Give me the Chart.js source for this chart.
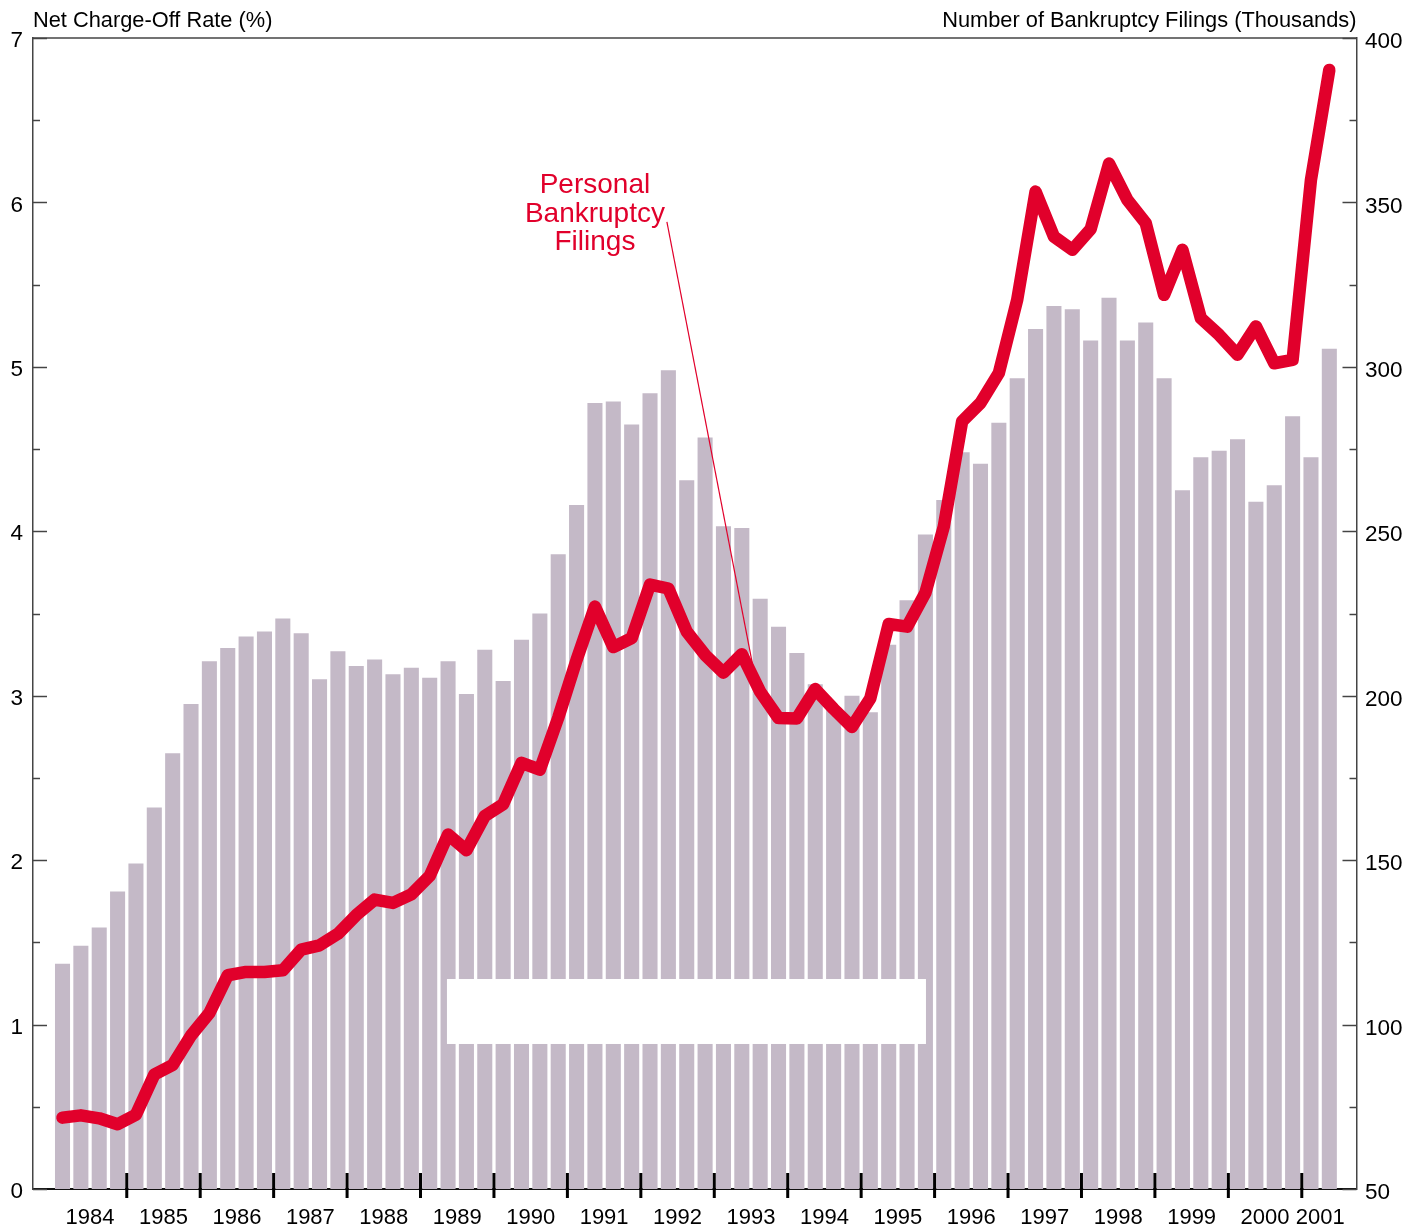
<!DOCTYPE html>
<html>
<head>
<meta charset="utf-8">
<script src="https://cdn.jsdelivr.net/npm/chart.js@4/dist/chart.umd.min.js"></script>
<style>
html,body{margin:0;padding:0;background:#ffffff;}
canvas{display:block;}
</style>
</head>
<body>
<canvas id="c" width="1424" height="1230"></canvas>
<script>
// ---- DATA ----
const quarters = [
 '1984Q1','1984Q2','1984Q3','1984Q4','1985Q1','1985Q2','1985Q3','1985Q4',
 '1986Q1','1986Q2','1986Q3','1986Q4','1987Q1','1987Q2','1987Q3','1987Q4',
 '1988Q1','1988Q2','1988Q3','1988Q4','1989Q1','1989Q2','1989Q3','1989Q4',
 '1990Q1','1990Q2','1990Q3','1990Q4','1991Q1','1991Q2','1991Q3','1991Q4',
 '1992Q1','1992Q2','1992Q3','1992Q4','1993Q1','1993Q2','1993Q3','1993Q4',
 '1994Q1','1994Q2','1994Q3','1994Q4','1995Q1','1995Q2','1995Q3','1995Q4',
 '1996Q1','1996Q2','1996Q3','1996Q4','1997Q1','1997Q2','1997Q3','1997Q4',
 '1998Q1','1998Q2','1998Q3','1998Q4','1999Q1','1999Q2','1999Q3','1999Q4',
 '2000Q1','2000Q2','2000Q3','2000Q4','2001Q1','2001Q2'
];
const years = ['1984','1985','1986','1987','1988','1989','1990','1991','1992',
 '1993','1994','1995','1996','1997','1998','1999','2000','2001'];

// Net charge-off rate (%), left axis (bars)
const chargeOffRate = [
 1.37,1.48,1.59,1.81, 1.98,2.32,2.65,2.95,
 3.21,3.29,3.36,3.39, 3.47,3.38,3.10,3.27,
 3.18,3.22,3.13,3.17, 3.11,3.21,3.01,3.28,
 3.09,3.34,3.50,3.86, 4.16,4.78,4.79,4.65,
 4.84,4.98,4.31,4.57, 4.03,4.02,3.59,3.42,
 3.26,3.07,2.93,3.00, 2.90,3.31,3.58,3.98,
 4.19,4.48,4.41,4.66, 4.93,5.23,5.37,5.35,
 5.16,5.42,5.16,5.27, 4.93,4.25,4.45,4.49,
 4.56,4.18,4.28,4.70, 4.45,5.11
];
// Personal bankruptcy filings (thousands), right axis (line)
const bankruptcyFilings = [
 71.7,72.4,71.5,69.7, 72.6,84.8,87.7,96.7,
 103.5,115.0,116.0,116.0, 116.5,122.8,124.1,127.6,
 133.3,138.0,137.0,139.6, 145.2,157.8,153.0,163.4,
 167.0,179.6,177.5,193.3, 210.9,227.1,214.8,217.5,
 233.8,232.6,219.5,212.4, 207.0,212.6,201.2,193.2,
 193.1,202.0,196.0,190.5, 199.2,221.8,221.0,231.3,
 251.4,283.4,289.0,298.1, 320.4,353.3,339.6,335.6,
 341.9,361.8,350.8,343.7, 321.9,335.6,314.8,309.7,
 303.7,312.3,301.1,302.1, 356.9,390.3
];
const leftTicks = [0,1,2,3,4,5,6,7];
const rightTicks = [50,100,150,200,250,300,350,400];

const leftTitle = 'Net Charge-Off Rate (%)';
const rightTitle = 'Number of Bankruptcy Filings (Thousands)';
const seriesLabel = ['Personal','Bankruptcy','Filings'];

// ---- derived helpers ----
const yearIndexGroups = years.map(y => quarters.map((q,i)=>q.startsWith(y)?i:-1).filter(i=>i>=0));
const yearCenters = yearIndexGroups.map(g => (g[0]+g[g.length-1])/2);
const yearBoundaries = yearIndexGroups.slice(1).map(g => g[0]-0.5);

const FONT = '"Liberation Sans", Arial, Helvetica, sans-serif';
const RED = '#E1002B';
const BAR = '#C4B9C7';
const AXIS = '#444444';

const decor = {
  id: 'decor',
  afterDatasetDraw(chart, args) {
    if (args.index !== 0) return;
    const x = chart.scales.x, y = chart.scales.y;
    const ctx = chart.ctx;
    const x0 = x.getPixelForValue(20.94), x1 = x.getPixelForValue(47.03);
    const y0 = y.getPixelForValue(1.277), y1 = y.getPixelForValue(0.882);
    ctx.save();
    ctx.fillStyle = '#ffffff';
    ctx.fillRect(x0, y0, x1-x0, y1-y0);
    ctx.restore();
  },
  afterDraw(chart) {
    const ctx = chart.ctx;
    const ca = chart.chartArea;
    const x = chart.scales.x, y = chart.scales.y, y2 = chart.scales.y2;
    ctx.save();
    // top frame line
    ctx.strokeStyle = AXIS; ctx.lineWidth = 1.5;
    ctx.beginPath(); ctx.moveTo(ca.left, ca.top); ctx.lineTo(ca.right, ca.top); ctx.stroke();
    // left inner ticks
    for (let v = leftTicks[0]; v <= leftTicks[leftTicks.length-1]; v += 0.5) {
      const py = Math.round(y.getPixelForValue(v)) + 0.5;
      const len = Number.isInteger(v) ? 14 : 7;
      ctx.beginPath(); ctx.moveTo(ca.left, py); ctx.lineTo(ca.left+len, py); ctx.stroke();
    }
    // right inner ticks
    for (let v = rightTicks[0]; v <= rightTicks[rightTicks.length-1]; v += 25) {
      const py = Math.round(y2.getPixelForValue(v)) + 0.5;
      const len = (v % 50 === 0) ? 14 : 7;
      ctx.beginPath(); ctx.moveTo(ca.right, py); ctx.lineTo(ca.right-len, py); ctx.stroke();
    }
    // year boundary ticks
    ctx.strokeStyle = '#000000'; ctx.lineWidth = 3;
    yearBoundaries.forEach(b => {
      const px = x.getPixelForValue(b);
      ctx.beginPath(); ctx.moveTo(px, ca.bottom-16); ctx.lineTo(px, ca.bottom+9); ctx.stroke();
    });
    // axis titles
    ctx.fillStyle = '#000000';
    ctx.font = '21.8px ' + FONT;
    ctx.textBaseline = 'alphabetic';
    ctx.textAlign = 'left';
    ctx.fillText(leftTitle, ca.left, 27);
    ctx.textAlign = 'right';
    ctx.fillText(rightTitle, ca.right, 27);
    // series annotation
    ctx.fillStyle = RED;
    ctx.font = '28px ' + FONT;
    ctx.textAlign = 'center';
    const ax = x.getPixelForValue(29.0);
    const ay = y2.getPixelForValue(352.9);
    seriesLabel.forEach((t,i) => ctx.fillText(t, ax, ay + i*28.8));
    // leader line
    ctx.strokeStyle = RED; ctx.lineWidth = 1.2;
    ctx.beginPath();
    ctx.moveTo(x.getPixelForValue(32.92), y2.getPixelForValue(344.1));
    ctx.lineTo(x.getPixelForValue(37.61), y2.getPixelForValue(208.8));
    ctx.stroke();
    ctx.restore();
  }
};

new Chart(document.getElementById('c'), {
  data: {
    datasets: [
      {
        type: 'bar',
        label: 'Net Charge-Off Rate',
        data: chargeOffRate.map((v,i)=>({x:i, y:v})),
        backgroundColor: BAR,
        borderWidth: 0,
        barPercentage: 0.82,
        categoryPercentage: 1.0,
        xAxisID: 'x', yAxisID: 'y',
        order: 2
      },
      {
        type: 'line',
        label: 'Personal Bankruptcy Filings',
        data: bankruptcyFilings.map((v,i)=>({x:i, y:v})),
        borderColor: RED,
        borderWidth: 12.5,
        borderJoinStyle: 'round',
        borderCapStyle: 'round',
        pointRadius: 0,
        tension: 0,
        fill: false,
        xAxisID: 'x', yAxisID: 'y2',
        order: 1
      }
    ]
  },
  options: {
    responsive: false,
    animation: false,
    devicePixelRatio: 1,
    layout: { padding: { top: 38, left: 0, right: 0, bottom: 0 } },
    plugins: { legend: { display: false }, tooltip: { enabled: false }, title: { display: false } },
    scales: {
      x: {
        type: 'linear', position: 'bottom',
        min: -1.607, max: 70.48, offset: false, bounds: 'data',
        grid: { display: false, drawTicks: false, tickLength: 0 },
        border: { display: true, color: '#111111', width: 2 },
        afterBuildTicks: s => { s.ticks = yearCenters.map(v => ({ value: v })); },
        afterFit: s => { s.height = 41; },
        ticks: {
          autoSkip: false, maxRotation: 0, minRotation: 0, padding: 16,
          color: '#000000', font: { family: FONT, size: 22 },
          callback: (v, i) => years[i]
        }
      },
      y: {
        type: 'linear', position: 'left',
        min: leftTicks[0], max: leftTicks[leftTicks.length-1],
        grid: { display: false, drawTicks: false, tickLength: 0 },
        border: { display: true, color: AXIS, width: 1.5 },
        afterBuildTicks: s => { s.ticks = leftTicks.map(v => ({ value: v })); },
        afterFit: s => { s.width = 33; },
        ticks: { padding: 10, labelOffset: 3, color: '#000000', font: { family: FONT, size: 22.5 }, callback: v => String(v) }
      },
      y2: {
        type: 'linear', position: 'right',
        min: rightTicks[0], max: rightTicks[rightTicks.length-1],
        grid: { display: false, drawTicks: false, tickLength: 0 },
        border: { display: true, color: AXIS, width: 1.5 },
        afterBuildTicks: s => { s.ticks = rightTicks.map(v => ({ value: v })); },
        afterFit: s => { s.width = 67.5; },
        ticks: { padding: 8.5, labelOffset: 4, color: '#000000', font: { family: FONT, size: 22.5 }, callback: v => String(v) }
      }
    }
  },
  plugins: [decor]
});
</script>
</body>
</html>
